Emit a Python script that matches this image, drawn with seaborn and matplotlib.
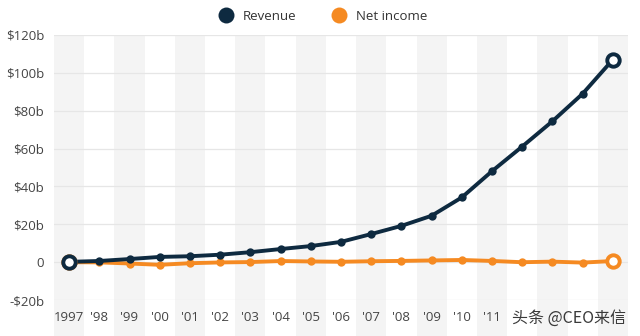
import matplotlib
matplotlib.use("Agg")
import matplotlib.pyplot as plt
import seaborn as sns
import pandas as pd
from matplotlib.lines import Line2D

years = list(range(1997, 2016))
revenue = [0.15, 0.61, 1.64, 2.76, 3.12, 3.93, 5.26, 6.92, 8.49, 10.71,
           14.84, 19.17, 24.51, 34.20, 48.08, 61.09, 74.45, 88.99, 107.01]
net_income = [-0.03, -0.12, -0.72, -1.41, -0.57, -0.15, 0.04, 0.59, 0.36, 0.19,
              0.48, 0.65, 0.90, 1.15, 0.63, -0.04, 0.27, -0.24, 0.60]
x_labels = ["1997", "'98", "'99", "'00", "'01", "'02", "'03", "'04", "'05", "'06",
            "'07", "'08", "'09", "'10", "'11", "", "", "", ""]
y_ticks = [-20, 0, 20, 40, 60, 80, 100, 120]
y_labels = ["-$20b", "0", "$20b", "$40b", "$60b", "$80b", "$100b", "$120b"]
series_names = ["Revenue", "Net income"]

NAVY = "#0e2a40"
ORANGE = "#f58a22"

sns.set_theme(style="white")
plt.rcParams["font.family"] = ["Open Sans", "DejaVu Sans"]

df = pd.DataFrame({
    "year": years * 2,
    "value": revenue + net_income,
    "series": [series_names[0]] * len(years) + [series_names[1]] * len(years),
})

fig = plt.figure(figsize=(6.4, 3.36), dpi=100)
ax = fig.add_axes([54 / 640, (336 - 300) / 336, (628 - 54) / 640, (300 - 35) / 336])

# alternating stripes
for i, yr in enumerate(years):
    if i % 2 == 0:
        ax.axvspan(yr - 0.5, yr + 0.5, ymin=-0.136, ymax=1.0, color="#f4f4f4",
                   zorder=0, clip_on=False, lw=0)

for yt in y_ticks:
    ax.axhline(yt, color="#e6e6e6", lw=0.9, zorder=0.5)

palette = {series_names[0]: NAVY, series_names[1]: ORANGE}
sns.lineplot(data=df, x="year", y="value", hue="series", palette=palette,
             hue_order=[series_names[1], series_names[0]],
             lw=2.8, marker="o", markersize=6, markeredgewidth=0,
             legend=False, ax=ax, zorder=3)

# hollow end markers
for vals, col in [(net_income, ORANGE), (revenue, NAVY)]:
    ends = pd.DataFrame({"year": [years[0], years[-1]], "value": [vals[0], vals[-1]]})
    sns.scatterplot(data=ends, x="year", y="value", s=80, facecolor="white",
                    edgecolor=col, linewidth=2.8, ax=ax, zorder=4, legend=False)

ax.set_xlim(years[0] - 0.5, years[-1] + 0.5)
ax.set_ylim(-20, 120)
ax.set_xticks(years)
ax.set_xticklabels(x_labels)
ax.set_yticks(y_ticks)
ax.set_yticklabels(y_labels)
ax.tick_params(axis="both", length=0, labelsize=9.5, labelcolor="#444444")
ax.tick_params(axis="y", pad=7)
ax.tick_params(axis="x", pad=8)
ax.set_xlabel("")
ax.set_ylabel("")
for s in ax.spines.values():
    s.set_visible(False)
ax.set_facecolor("none")

handles = [Line2D([0], [0], marker="o", color="none", markerfacecolor=NAVY,
                  markeredgewidth=0, markersize=11.5),
           Line2D([0], [0], marker="o", color="none", markerfacecolor=ORANGE,
                  markeredgewidth=0, markersize=11.5)]
fig.legend(handles, series_names, loc="center", bbox_to_anchor=(0.5, 1 - 16 / 336),
           ncol=2, frameon=False, fontsize=9.5, handletextpad=0.3,
           columnspacing=2.2, labelcolor="#333333")

fig.text(569 / 640, 1 - 318 / 336, "头条 @CEO来信", ha="center", va="center",
         fontsize=11.5, color="#3a3a3a", family=["Noto Sans CJK SC", "DejaVu Sans"])

fig.savefig("out.png", dpi=100)
